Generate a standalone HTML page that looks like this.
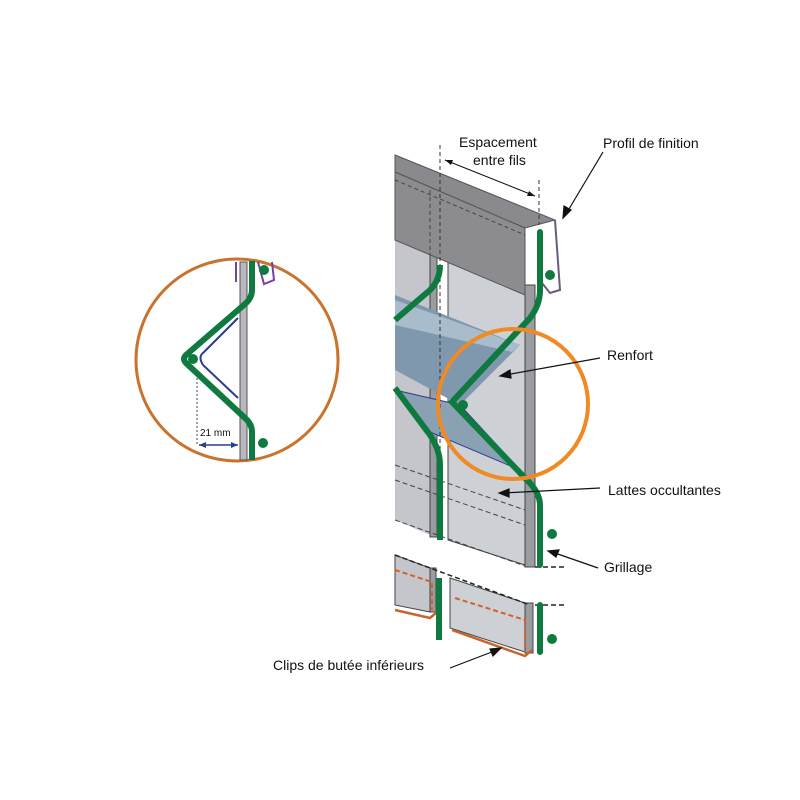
<!DOCTYPE html>
<html><head><meta charset="utf-8"><style>
html,body{margin:0;padding:0;background:#fff}
svg{display:block}
text{font-family:"Liberation Sans",sans-serif;fill:#111}
</style></head><body>
<svg width="800" height="800" viewBox="0 0 800 800">
<!-- LEFT DETAIL CIRCLE -->
<circle cx="237" cy="360" r="101" fill="#fff" stroke="#c8742e" stroke-width="3"/>
<path d="M236 262 V282 M258 262 l6 22 l10 -4 l-2 -18" fill="none" stroke="#7a3fa0" stroke-width="2"/>
<rect x="240" y="262" width="7" height="198" fill="#b8b8be" stroke="#555" stroke-width="1"/>
<path d="M203 353 L238 318 M203 365 L238 398 M203 353 q-5 4 0 12" fill="none" stroke="#2a3d8f" stroke-width="2"/>
<path d="M252 261 V290 Q252 298 245 304 L186 355 Q182 359 186 363 L245 418 Q252 424 252 432 V460" fill="none" stroke="#0f7a3f" stroke-width="6" stroke-linejoin="round"/>
<circle cx="193" cy="359" r="5" fill="#0f7a3f"/>
<circle cx="264" cy="270" r="5" fill="#0f7a3f"/>
<circle cx="263" cy="443" r="5" fill="#0f7a3f"/>
<line x1="197" y1="378" x2="197" y2="445" stroke="#444" stroke-dasharray="2,2"/>
<text x="200" y="436" font-size="10">21 mm</text>
<path d="M199 445 H238" stroke="#2a3d8f" stroke-width="1.5"/>
<path d="M199 445 l7 -3 v6z M238 445 l-7 -3 v6z" fill="#2a3d8f"/>

<!-- MAIN DRAWING: slats -->
<polygon points="395,235 430,250 430,535 395,520" fill="#c4c6cc"/>
<rect x="430" y="250" width="7" height="287" fill="#9a9ca2" stroke="#444"/>
<polygon points="448,255 525,285 525,565 448,540" fill="#cdd0d5" stroke="#444"/>
<rect x="525" y="285" width="10" height="282" fill="#9a9ca2" stroke="#444"/>
<path d="M395 520 L525 566 M395 465 L525 510 M395 480 L525 525" stroke="#444" stroke-dasharray="5,3"/>
<!-- lower slats -->
<polygon points="395,555 430,568 430,612 395,605" fill="#c4c6cc" stroke="#444"/>
<rect x="430" y="568" width="6" height="44" fill="#9a9ca2" stroke="#444"/>
<polygon points="450,578 525,603 525,652 450,628" fill="#cdd0d5" stroke="#444"/>
<rect x="525" y="603" width="8" height="50" fill="#9a9ca2" stroke="#444"/>
<path d="M395 555 L530 605 M535 605 H565 M535 567 H565" stroke="#222" stroke-dasharray="5,3" stroke-width="1.5"/>
<path d="M395 570 L432 582 V610 M455 598 L525 620 V652" fill="none" stroke="#d4602a" stroke-width="2" stroke-dasharray="5,3"/>
<path d="M395 610 L430 618 L437 612 M452 630 L525 656 L532 650" fill="none" stroke="#c8642e" stroke-width="2.5"/>

<!-- reinforcement -->
<polygon points="395,295 520,345 460,405 395,370" fill="#7f98ad"/>
<polygon points="395,300 520,345 512,352 395,325" fill="#a9bccb"/>
<polygon points="395,390 460,405 520,470 430,432" fill="#8aa0b3" stroke="#2a3d8f" stroke-width="1"/>

<!-- top profile -->
<polygon points="395,155 555,220 525,228 395,172" fill="#8a8a8e" stroke="#555"/>
<polygon points="395,172 525,228 525,295 395,240" fill="#8c8c90" stroke="#555"/>
<path d="M555 220 L560 290 L550 293 L538 278" fill="none" stroke="#6a5a80" stroke-width="2"/>
<path d="M395 180 L525 235 M430 190 V260" stroke="#444" stroke-dasharray="4,3" fill="none"/>
<line x1="440" y1="145" x2="440" y2="475" stroke="#333" stroke-dasharray="4,3"/>
<line x1="539" y1="180" x2="539" y2="225" stroke="#333" stroke-dasharray="4,3"/>
<line x1="445" y1="160" x2="535" y2="196" stroke="#111"/>
<path d="M445 160 l8 0 l-2 5z M535 196 l-8 0 l2 -5z" fill="#111"/>

<!-- green wires -->
<path d="M440 265 Q440 280 430 290 L395 320" fill="none" stroke="#0f7a3f" stroke-width="6"/>
<path d="M395 388 L430 435 Q440 450 440 465 V540" fill="none" stroke="#0f7a3f" stroke-width="6"/>
<path d="M439 578 V640" stroke="#0f7a3f" stroke-width="6"/>
<path d="M540 232 V290 Q540 305 530 318 L452 402 L525 478 Q540 492 540 505 V565" fill="none" stroke="#0f7a3f" stroke-width="6" stroke-linecap="round"/>
<path d="M540 605 V652" stroke="#0f7a3f" stroke-width="6" stroke-linecap="round"/>
<circle cx="550" cy="275" r="5" fill="#0f7a3f"/>
<circle cx="552" cy="534" r="5" fill="#0f7a3f"/>
<circle cx="552" cy="639" r="5" fill="#0f7a3f"/>
<circle cx="463" cy="405" r="5" fill="#0f7a3f"/>

<!-- orange circle -->
<circle cx="513" cy="404" r="75" fill="none" stroke="#f08a24" stroke-width="4"/>

<!-- labels & arrows -->
<text x="459" y="147" font-size="14">Espacement</text>
<text x="473" y="165" font-size="14">entre fils</text>
<text x="603" y="148" font-size="14">Profil de finition</text>
<text x="607" y="360" font-size="14">Renfort</text>
<text x="608" y="495" font-size="14">Lattes occultantes</text>
<text x="604" y="572" font-size="14">Grillage</text>
<text x="273" y="670" font-size="14">Clips de butée inférieurs</text>
<g stroke="#111" stroke-width="1.2" fill="#111">
<line x1="603" y1="152" x2="566" y2="214"/><path d="M563 218 l1 -12 l7 4z"/>
<line x1="600" y1="358" x2="505" y2="375"/><path d="M500 376 l10 -6 l1 8z"/>
<line x1="600" y1="488" x2="503" y2="493"/><path d="M499 493 l10 -4 v8z"/>
<line x1="598" y1="568" x2="552" y2="552"/><path d="M548 551 l11 -1 l-3 7z"/>
<line x1="450" y1="668" x2="497" y2="650"/><path d="M501 648 l-8 8 l-3 -7z"/>
</g>
</svg>
</body></html>
